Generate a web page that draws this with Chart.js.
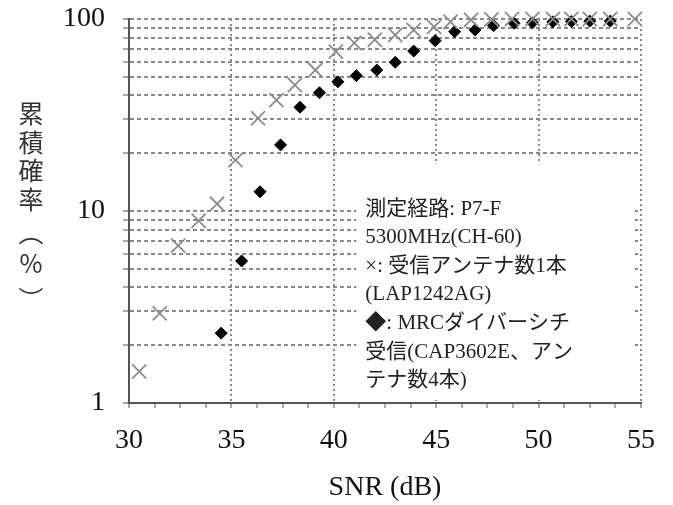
<!DOCTYPE html>
<html>
<head>
<meta charset="utf-8">
<script src="https://cdn.jsdelivr.net/npm/chart.js@4/dist/chart.umd.min.js"></script>
<style>
  body { margin: 0; background: #fff; }
  #wrap { width: 673px; height: 505px; }
</style>
</head>
<body>
<div id="wrap"><canvas id="chartSnr" width="673" height="505"></canvas></div>
<script>
// × : 受信アンテナ数1本
const snrSingle = [30.5, 31.5, 32.4, 33.4, 34.3, 35.2, 36.3, 37.2, 38.1, 39.1, 40.1, 41.0, 42.0, 43.0, 43.9, 44.9, 45.7, 46.7, 47.7, 48.7, 49.7, 50.7, 51.6, 52.5, 53.5, 54.7];
const probSingle = [1.46, 2.93, 6.6, 8.9, 10.9, 18.4, 30.4, 37.8, 45.3, 54.2, 67.6, 75, 78, 82.5, 87.6, 91, 96.8, 99, 99.5, 100, 100, 100, 100, 100, 100, 100];
// ◆ : MRCダイバーシチ受信
const snrMrc = [34.5, 35.5, 36.4, 37.4, 38.35, 39.3, 40.2, 41.1, 42.1, 43.0, 43.9, 44.95, 45.9, 46.9, 47.8, 48.8, 49.7, 50.7, 51.6, 52.5, 53.5];
const probMrc = [2.31, 5.49, 12.6, 22.1, 34.7, 41.3, 47.1, 50.7, 54.2, 59.5, 68.1, 77.1, 85.9, 87.7, 92.3, 95, 95.5, 96.7, 97, 97.5, 97.5];

const xTickLabels = [30, 35, 40, 45, 50, 55];
const yTickLabels = [1, 10, 100];
const yTitleChars = ["累", "積", "確", "率", "︵", "%", "︶"];
const noteLines = [
  "測定経路: P7-F",
  "5300MHz(CH-60)",
  "×: 受信アンテナ数1本",
  "(LAP1242AG)",
  "◆: MRCダイバーシチ",
  "受信(CAP3602E、アン",
  "テナ数4本)"
];

const serif = "'Liberation Serif', 'Noto Sans CJK JP', serif";

const toPoints = (xs, ys) => xs.map((x, i) => ({ x: x, y: ys[i] }));

// note box + vertical y title
const extras = {
  id: "extras",
  beforeDatasetsDraw(chart) {
    const { ctx, scales: { x, y } } = chart;
    const left = x.getPixelForValue(41.1);
    const right = x.getPixelForValue(54.7);
    const top = y.getPixelForValue(17.5);
    const bottom = y.bottom - 3;
    ctx.save();
    ctx.fillStyle = "#fff";
    ctx.fillRect(left, top, right - left, bottom - top);
    ctx.fillStyle = "#222";
    ctx.font = "21px " + serif;
    ctx.textBaseline = "middle";
    noteLines.forEach((t, i) => {
      ctx.fillText(t, left + 9, 209 + i * 28.6);
    });
    ctx.restore();
  },
  afterDraw(chart) {
    const ctx = chart.ctx;
    ctx.save();
    ctx.fillStyle = "#333";
    ctx.font = "25px 'Noto Sans CJK JP'";
    ctx.textAlign = "center";
    ctx.textBaseline = "middle";
    const ys = [113, 142, 170, 199, 232, 263, 299];
    yTitleChars.forEach((c, i) => ctx.fillText(c, 31, ys[i]));
    ctx.restore();
  }
};

new Chart(document.getElementById("chartSnr"), {
  type: "scatter",
  data: {
    datasets: [
      {
        label: "受信アンテナ数1本",
        data: toPoints(snrSingle, probSingle),
        pointStyle: "crossRot",
        pointRadius: 10,
        borderColor: "#8c8c8c",
        pointBorderWidth: 1.8,
        clip: false
      },
      {
        label: "MRCダイバーシチ受信",
        data: toPoints(snrMrc, probMrc),
        pointStyle: "rectRot",
        pointRadius: 6,
        backgroundColor: "#000",
        borderColor: "#000",
        pointBorderWidth: 1,
        clip: false
      }
    ]
  },
  options: {
    responsive: false,
    animation: false,
    events: [],
    layout: { padding: { top: 19, right: 32, left: 0, bottom: 0 } },
    plugins: { legend: { display: false }, tooltip: { enabled: false } },
    scales: {
      x: {
        type: "linear",
        min: 30,
        max: 55,
        afterBuildTicks(scale) {
          const t = [];
          for (let v = 30; v <= 55.001; v += 1.25) t.push({ value: v });
          scale.ticks = t;
        },
        afterFit(scale) { scale.height = 102; scale.paddingLeft = 0; scale.paddingRight = 0; },
        ticks: {
          autoSkip: false,
          maxRotation: 0,
          padding: 16,
          color: "#111",
          font: { family: serif, size: 28 },
          callback: (v) => xTickLabels.includes(v) ? String(v) : ""
        },
        grid: {
          color: (c) => (c.tick && c.tick.value % 5 === 0 && c.tick.value !== 30) ? "#8a8a8a" : "rgba(0,0,0,0)",
          lineWidth: 2,
          tickLength: 5,
          tickColor: "#555",
          tickWidth: 1
        },
        border: { display: true, color: "#555", width: 2, dash: [2, 3] },
        title: {
          display: true,
          text: "SNR (dB)",
          color: "#111",
          font: { family: serif, size: 28 },
          padding: { top: 0, bottom: 1 }
        }
      },
      y: {
        type: "logarithmic",
        min: 1,
        max: 100,
        afterBuildTicks(scale) {
          const t = [];
          for (let d = 1; d <= 10; d *= 10) {
            for (let m = 1; m < 10; m++) t.push({ value: m * d });
          }
          t.push({ value: 100 });
          scale.ticks = t;
        },
        afterFit(scale) { scale.width = 129; scale.paddingTop = 0; scale.paddingBottom = 0; },
        ticks: {
          autoSkip: false,
          padding: 18,
          color: "#111",
          font: { family: serif, size: 28 },
          callback: (v) => yTickLabels.includes(v) ? String(v) : ""
        },
        grid: {
          color: (c) => (c.tick && c.tick.value !== 1) ? "#8a8a8a" : "rgba(0,0,0,0)",
          lineWidth: 2,
          tickLength: 6,
          tickColor: "#555",
          tickWidth: 1
        },
        border: { display: true, color: "#555", width: 2, dash: [4, 3] }
      }
    }
  },
  plugins: [extras]
});
</script>
</body>
</html>
